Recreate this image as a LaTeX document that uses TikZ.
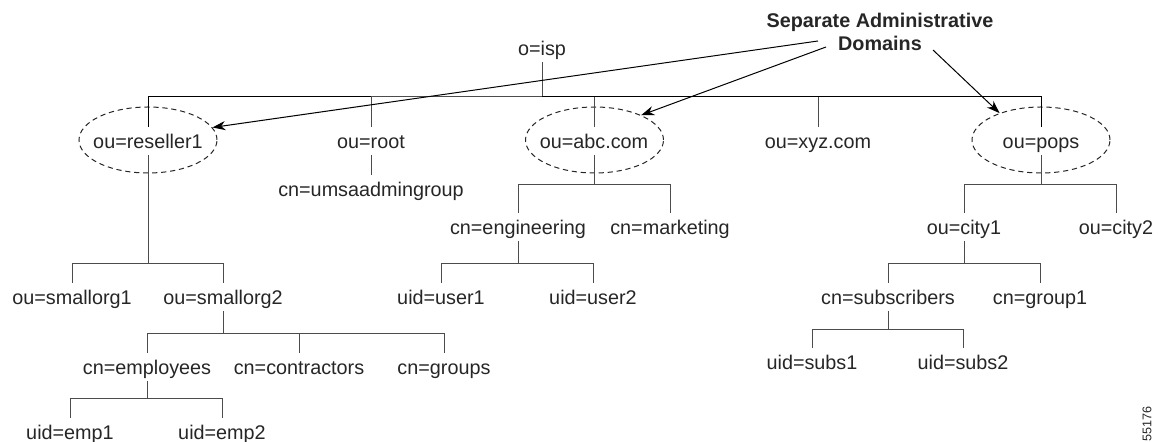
\documentclass[tikz,border=0pt]{standalone}
\usepackage{fontspec}
\setmainfont{Liberation Sans}
\usetikzlibrary{shapes.geometric,arrows.meta}

\begin{document}
\begin{tikzpicture}[x=0.5pt,y=-0.5pt,
  entry/.style={inner sep=0pt,minimum height=14pt,text height=7.1pt,text depth=0pt,
    text=black!85,font=\fontsize{9.9}{11.5}\selectfont},
  admindomain/.style={draw=black!85,ellipse,dash pattern=on 2.6pt off 1.9pt,inner sep=0pt,
    minimum width=69pt,minimum height=33pt,line width=0.5pt},
  tline/.style={draw=black!70,line width=0.5pt},
  pointer/.style={-{Stealth[length=6.5pt,width=4.6pt]},line width=0.5pt,black}]
  \useasboundingbox (0,0) rectangle (1168,442);

  \node[entry] (isp) at (542,48) {o=isp};

  \node[entry] (reseller1) at (148,141) {ou=reseller1};
  \node[entry] (root) at (371,141) {ou=root};
  \node[entry] (abc) at (594,141) {ou=abc.com};
  \node[entry] (xyz) at (818,141) {ou=xyz.com};
  \node[entry] (pops) at (1041,141) {ou=pops};
  \node[admindomain] (dom1) at (148,140) {};
  \node[admindomain] (dom2) at (594.5,140) {};
  \node[admindomain] (dom3) at (1041,140) {};

  \node[entry] (umsa) at (371,189) {cn=umsaadmingroup};

  \node[entry] (smallorg1) at (72,297) {ou=smallorg1};
  \node[entry] (smallorg2) at (223,297) {ou=smallorg2};
  \node[entry] (employees) at (147,367) {cn=employees};
  \node[entry] (contractors) at (299,367) {cn=contractors};
  \node[entry] (groups) at (444,367) {cn=groups};
  \node[entry] (emp1) at (70,432) {uid=emp1};
  \node[entry] (emp2) at (222,432) {uid=emp2};

  \node[entry] (engineering) at (518,227) {cn=engineering};
  \node[entry] (marketing) at (670,227) {cn=marketing};
  \node[entry] (user1) at (441,297) {uid=user1};
  \node[entry] (user2) at (593,297) {uid=user2};

  \node[entry] (city1) at (964,227) {ou=city1};
  \node[entry] (city2) at (1116,227) {ou=city2};
  \node[entry] (subscribers) at (888,297) {cn=subscribers};
  \node[entry] (group1) at (1040,297) {cn=group1};
  \node[entry] (subs1) at (812,362) {uid=subs1};
  \node[entry] (subs2) at (963,362) {uid=subs2};

  \coordinate (ispbar) at (542,97);
  \coordinate (resellerbar) at (148,264);
  \coordinate (abcbar) at (594,185);
  \coordinate (popsbar) at (1041,185);
  \coordinate (smallorgbar) at (223,334);
  \coordinate (employeesbar) at (147,399);
  \coordinate (engineeringbar) at (518,264);
  \coordinate (citybar) at (964,264);
  \coordinate (subscribersbar) at (888,330);

  \draw[tline] (isp) -- (ispbar);
  \draw[tline,draw=black] (ispbar) -| (reseller1);
  \draw[tline] (ispbar) -| (root);
  \draw[tline] (ispbar) -| (abc);
  \draw[tline] (ispbar) -| (xyz);
  \draw[tline,draw=black] (ispbar) -| (pops);
  \draw[tline] (root) -- (umsa);

  \draw[tline] (reseller1) -- (resellerbar);
  \draw[tline] (resellerbar) -| (smallorg1);
  \draw[tline] (resellerbar) -| (smallorg2);
  \draw[tline] (smallorg2) -- (smallorgbar);
  \draw[tline] (smallorgbar) -| (employees);
  \draw[tline] (smallorgbar) -| (contractors);
  \draw[tline] (smallorgbar) -| (groups);
  \draw[tline] (employees) -- (employeesbar);
  \draw[tline] (employeesbar) -| (emp1);
  \draw[tline] (employeesbar) -| (emp2);

  \draw[tline] (abc) -- (abcbar);
  \draw[tline] (abcbar) -| (engineering);
  \draw[tline] (abcbar) -| (marketing);
  \draw[tline] (engineering) -- (engineeringbar);
  \draw[tline] (engineeringbar) -| (user1);
  \draw[tline] (engineeringbar) -| (user2);

  \draw[tline] (pops) -- (popsbar);
  \draw[tline] (popsbar) -| (city1);
  \draw[tline] (popsbar) -| (city2);
  \draw[tline] (city1) -- (citybar);
  \draw[tline] (citybar) -| (subscribers);
  \draw[tline] (citybar) -| (group1);
  \draw[tline] (subscribers) -- (subscribersbar);
  \draw[tline] (subscribersbar) -| (subs1);
  \draw[tline] (subscribersbar) -| (subs2);

  \node[align=center,text=black!85,font=\fontsize{9.9}{11.5}\selectfont\bfseries] (sepdomains) at (880,31.6)
    {Separate Administrative\\Domains};
  \coordinate (from1) at (818,41);
  \coordinate (from2) at (826,47);
  \coordinate (from3) at (933,50);
  \draw[pointer] (from1) -- (dom1.11);
  \draw[pointer] (from2) -- (dom2.28);
  \draw[pointer] (from3) -- (dom3.147);

  \node[rotate=90,text=black!85,font=\fontsize{6.3}{7}\selectfont] (fignum) at (1147,424) {55176};
\end{tikzpicture}
\end{document}
